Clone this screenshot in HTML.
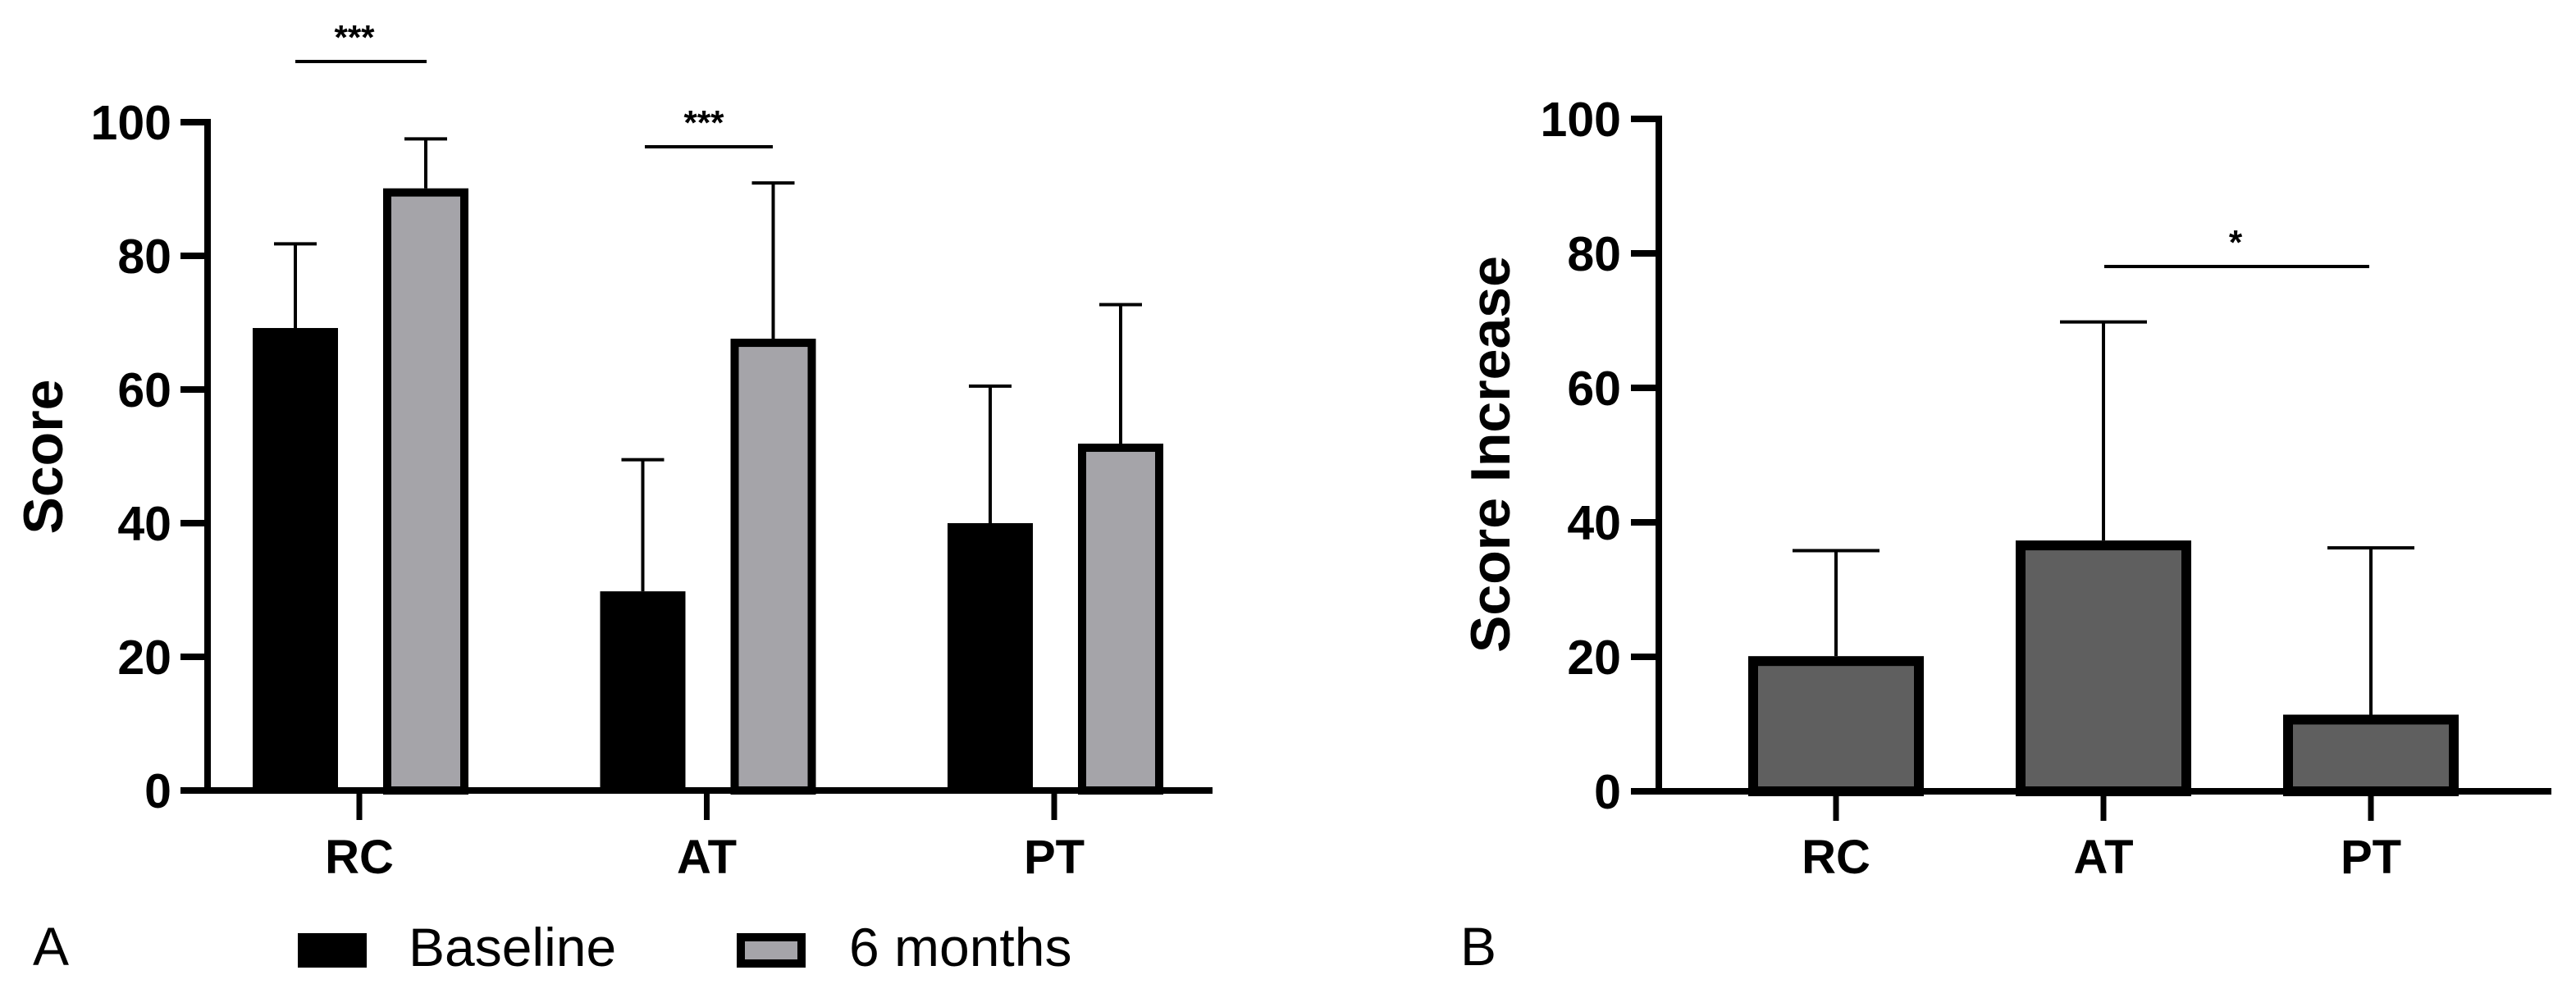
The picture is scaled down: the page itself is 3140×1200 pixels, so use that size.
<!DOCTYPE html>
<html><head><meta charset="utf-8"><style>
html,body{margin:0;padding:0;background:#fff;}
svg{display:block;font-family:"Liberation Sans",Arial,sans-serif;}
</style></head><body>
<svg id="chart" width="3140" height="1200" viewBox="0 0 3140 1200" xmlns="http://www.w3.org/2000/svg">
<g id="pa"></g>
<g id="pb"></g>
</svg>
<script>
const categories = ["RC","AT","PT"];
const baselineMeans = [69.2, 29.8, 40.0];
const baselineErr = [81.8, 49.5, 60.5];
const sixMonthMeans = [90.1, 67.6, 51.9];
const sixMonthErr = [97.5, 90.9, 72.7];
const increaseMeans = [20.1, 37.3, 11.4];
const increaseErr = [35.8, 69.8, 36.2];
const yTicks = [0,20,40,60,80,100];

const NS="http://www.w3.org/2000/svg";
function mk(parent, tag, attrs, text){
  const e=document.createElementNS(NS,tag);
  for(const k in attrs) e.setAttribute(k,attrs[k]);
  if(text!==undefined) e.textContent=text;
  parent.appendChild(e); return e;
}
// Panel A axes
const pa=document.getElementById('pa');
const yA=v=>964-v*8.15;
const xA=i=>438+i*423.5;
function axesA(){
  let ax=mk(pa,'line',{x1:253,y1:yA(100)-4,x2:253,y2:yA(0)+4,stroke:'#000','stroke-width':8});
  
  
  let xa=mk(pa,'line',{x1:220,y1:yA(0),x2:1478,y2:yA(0),stroke:'#000','stroke-width':8});
  
  
  yTicks.forEach(t=>{
    let l=mk(pa,'line',{x1:220,y1:yA(t),x2:253,y2:yA(t),stroke:'#000','stroke-width':8});
    
    
    let tx=mk(pa,'text',{x:209,y:yA(t)+21,'text-anchor':'end','font-size':59,'font-weight':'bold'},String(t));
    
    
  });
}
axesA();
categories.forEach((c,i)=>{
  const cx=xA(i);
  let tk=mk(pa,'line',{x1:cx,y1:yA(0),x2:cx,y2:1000,stroke:'#000','stroke-width':7});
  
  
  let lb=mk(pa,'text',{x:cx,y:1065,'text-anchor':'middle','font-size':58,'font-weight':'bold'},c);
  
  
  // baseline bar
  const bx=cx-78;
  let e1=mk(pa,'line',{x1:bx,y1:yA(baselineErr[i]),x2:bx,y2:yA(baselineMeans[i]),stroke:'#000','stroke-width':4});
  
  
  let c1=mk(pa,'line',{x1:bx-26,y1:yA(baselineErr[i]),x2:bx+26,y2:yA(baselineErr[i]),stroke:'#000','stroke-width':4});
  
  
  let b1=mk(pa,'rect',{x:bx-52,y:yA(baselineMeans[i]),width:104,height:yA(0)-yA(baselineMeans[i]),fill:'#000'});
  
  
  // 6 month bar
  const sx=cx+81;
  let e2=mk(pa,'line',{x1:sx,y1:yA(sixMonthErr[i]),x2:sx,y2:yA(sixMonthMeans[i]),stroke:'#000','stroke-width':4});
  
  
  let c2=mk(pa,'line',{x1:sx-26,y1:yA(sixMonthErr[i]),x2:sx+26,y2:yA(sixMonthErr[i]),stroke:'#000','stroke-width':4});
  
  
  let b2=mk(pa,'rect',{x:sx-47,y:yA(sixMonthMeans[i])+5,width:94,height:yA(0)-yA(sixMonthMeans[i])-5,fill:'#a5a4a9',stroke:'#000','stroke-width':10});
  
  
});
// Panel B
const pb=document.getElementById('pb');
const yB=v=>965-v*8.2;
const xB=i=>2238+i*326;
let axb=mk(pb,'line',{x1:2022,y1:yB(100)-4,x2:2022,y2:yB(0)+4,stroke:'#000','stroke-width':8});


let xxb=mk(pb,'line',{x1:1988,y1:yB(0),x2:3110,y2:yB(0),stroke:'#000','stroke-width':8});


yTicks.forEach(t=>{
  let l=mk(pb,'line',{x1:1988,y1:yB(t),x2:2022,y2:yB(t),stroke:'#000','stroke-width':8});
  
  
  let tx=mk(pb,'text',{x:1976,y:yB(t)+21,'text-anchor':'end','font-size':59,'font-weight':'bold'},String(t));
  
  
});
categories.forEach((c,i)=>{
  const cx=xB(i);
  let tk=mk(pb,'line',{x1:cx,y1:yB(0),x2:cx,y2:1001,stroke:'#000','stroke-width':7});
  
  
  let lb=mk(pb,'text',{x:cx,y:1065,'text-anchor':'middle','font-size':58,'font-weight':'bold'},c);
  
  
  let e=mk(pb,'line',{x1:cx,y1:yB(increaseErr[i]),x2:cx,y2:yB(increaseMeans[i]),stroke:'#000','stroke-width':4});
  
  
  let cp=mk(pb,'line',{x1:cx-53,y1:yB(increaseErr[i]),x2:cx+53,y2:yB(increaseErr[i]),stroke:'#000','stroke-width':4});
  
  
  let b=mk(pb,'rect',{x:cx-101,y:yB(increaseMeans[i])+6,width:202,height:yB(0)-yB(increaseMeans[i])-6,fill:'#5f5f5f',stroke:'#000','stroke-width':12});
  
  
});
</script>
<svg width="3140" height="1200" viewBox="0 0 3140 1200" style="position:absolute;left:0;top:0" font-family="Liberation Sans, Arial, sans-serif">
  <line x1="360" y1="75" x2="520" y2="75" stroke="#000" stroke-width="4"/>
  <text x="432" y="60" text-anchor="middle" font-size="42" font-weight="bold">***</text>
  <line x1="786" y1="179" x2="942" y2="179" stroke="#000" stroke-width="4"/>
  <text x="858" y="164" text-anchor="middle" font-size="42" font-weight="bold">***</text>
  <line x1="2565" y1="325" x2="2888" y2="325" stroke="#000" stroke-width="4"/>
  <text x="2725" y="310" text-anchor="middle" font-size="42" font-weight="bold">*</text>
  <text transform="translate(76,557) rotate(-90)" text-anchor="middle" font-size="68" font-weight="bold">Score</text>
  <text transform="translate(1840,554) rotate(-90)" text-anchor="middle" font-size="68" font-weight="bold">Score Increase</text>
  <text x="40" y="1177" font-size="66">A</text>
  <text x="1780" y="1177" font-size="66">B</text>
  <rect x="363" y="1138" width="84" height="42" fill="#000"/>
  <text x="498" y="1178" font-size="66">Baseline</text>
  <rect x="903" y="1143" width="74" height="32" fill="#a5a4a9" stroke="#000" stroke-width="10"/>
  <text x="1035" y="1178" font-size="66">6 months</text>
</svg>
</body></html>
